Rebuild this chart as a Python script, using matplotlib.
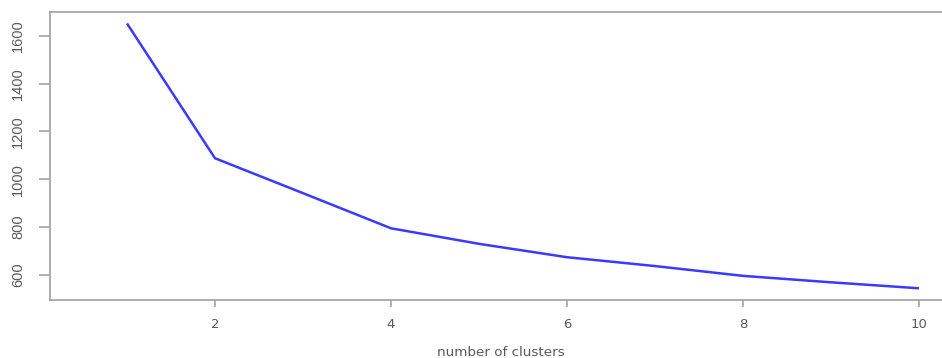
import matplotlib
matplotlib.use("Agg")
import matplotlib.pyplot as plt

clusters = [1, 2, 3, 4, 5, 6, 7, 8, 9, 10]
wss = [1652, 1088, 942, 795, 730, 674, 637, 596, 569, 544]
x_ticks = [2, 4, 6, 8, 10]
y_ticks = [600, 800, 1000, 1200, 1400, 1600]
x_label = "number of clusters"

W, H = 942, 358
fig = plt.figure(figsize=(W / 100, H / 100), dpi=100)
left, right, top, bottom = 50, 952, 11.5, 300
ax = fig.add_axes([left / W, (H - bottom) / H, (right - left) / W, (bottom - top) / H])

ax.plot(clusters, wss, color="#3a3aff", lw=1.8, solid_capstyle="butt")

ax.set_xlim(0.125, 10.375)
ax.set_ylim(495, 1702)
ax.set_xticks(x_ticks)
ax.set_yticks(y_ticks)

spine_col = "#a6a6a6"
for s in ax.spines.values():
    s.set_color(spine_col)
    s.set_linewidth(1.3)
ax.spines["right"].set_visible(False)

ax.tick_params(axis="x", length=5, width=1.2, color=spine_col, pad=8,
               labelsize=9.5, labelcolor="#5a5a5a")
ax.tick_params(axis="y", length=8, width=1.2, color=spine_col, pad=10,
               labelsize=10.5, labelcolor="#5a5a5a")
for lab in ax.get_xticklabels():
    lab.set_family("DejaVu Sans")
for lab in ax.get_yticklabels():
    lab.set_family(["Liberation Sans Narrow", "Liberation Sans"])
    lab.set_rotation(90)
    lab.set_va("center")
    lab.set_ha("right")

ax.set_xlabel(x_label, fontsize=9.7, color="#5a5a5a", family="DejaVu Sans", va="baseline")
ax.xaxis.set_label_coords((501 - left) / (right - left), -(355.5 - bottom) / (bottom - top))

fig.savefig("out.png", dpi=100)
